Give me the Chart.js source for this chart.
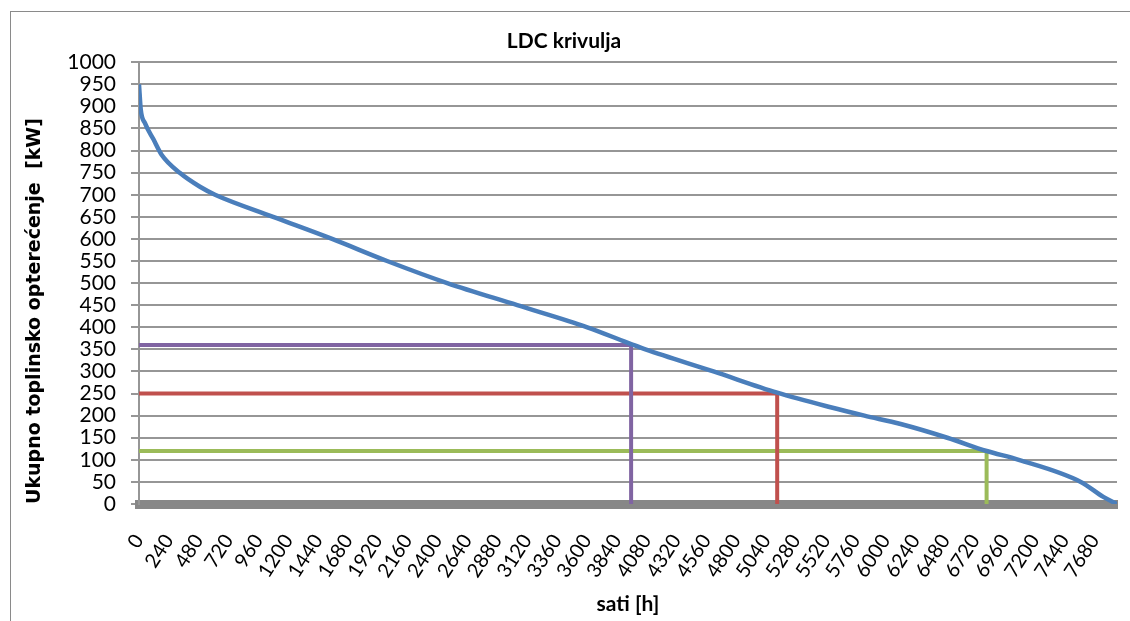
<!DOCTYPE html>
<html>
<head>
<meta charset="utf-8">
<script src="https://cdn.jsdelivr.net/npm/chart.js@4.4.1/dist/chart.umd.min.js"></script>
<style>
  html, body { margin: 0; padding: 0; background: #fff; }
  #wrap { width: 1130px; height: 621px; }
</style>
</head>
<body>
<div id="wrap"><canvas id="ldc"></canvas></div>
<script>
// load duration curve
const hours = [0, 14, 48, 115, 183, 330, 490, 611, 1078, 1552, 1994, 2477, 3040, 3603, 3955, 4070, 4617, 5129, 5558, 5830, 6121, 6496, 6812, 7070, 7569, 7750, 7860];
const load = [950, 893, 862, 826, 790, 749, 718, 700, 650, 600, 550, 500, 450, 400, 362, 350, 300, 252, 219, 200, 181, 150, 120, 100, 50, 16, 0];

// marker lines: load level and the hour where the curve reaches it
const markerLoads = [360, 250, 120];
const markerHours = [3955, 5129, 6812];
const markerColors = ['#8064A2', '#C0504D', '#9BBB59'];

// x tick labels every 240 h
const xTicks = [0, 240, 480, 720, 960, 1200, 1440, 1680, 1920, 2160, 2400, 2640, 2880, 3120, 3360, 3600,
    3840, 4080, 4320, 4560, 4800, 5040, 5280, 5520, 5760, 6000, 6240, 6480, 6720, 6960, 7200, 7440, 7680];
const xMax = 7860;

const ctx = document.getElementById('ldc');

const curve = hours.map((h, i) => ({ x: h, y: load[i] }));

const markerSets = markerLoads.map((v, i) => ({
    label: 'level ' + v,
    data: [{ x: 0, y: v }, { x: markerHours[i], y: v }, { x: markerHours[i], y: 0 }],
    borderColor: markerColors[i],
    borderWidth: 4,
    pointRadius: 0,
    order: 2
}));

const frame = {
    id: 'frame',
    beforeDraw(chart) {
        const c = chart.ctx;
        c.save();
        c.strokeStyle = '#8a8a8a';
        c.lineWidth = 1;
        c.strokeRect(10.5, 11.5, 1200, 700);
        c.restore();
    }
};

new Chart(ctx, {
    type: 'line',
    data: {
        datasets: [{
            label: 'LDC',
            data: curve,
            borderColor: '#4A7EBB',
            borderWidth: 4.5,
            pointRadius: 0,
            cubicInterpolationMode: 'monotone',
            order: 1
        }, ...markerSets]
    },
    options: {
        responsive: true,
        maintainAspectRatio: false,
        animation: false,
        layout: { padding: { left: 11, top: 12, right: 13, bottom: 4 } },
        plugins: {
            legend: { display: false },
            tooltip: { enabled: false },
            title: {
                display: true,
                text: 'LDC krivulja',
                color: '#000',
                font: { family: 'Lato', size: 21, weight: 'bold' },
                padding: { top: 17, bottom: 8 }
            }
        },
        scales: {
            x: {
                type: 'linear',
                min: 0,
                max: xMax,
                afterBuildTicks: s => { s.ticks = xTicks.map(v => ({ value: v })); },
                afterFit: s => { s.height = 113; s.paddingLeft = 0; s.paddingRight = 0; },
                ticks: {
                    autoSkip: false,
                    minRotation: 57,
                    maxRotation: 57,
                    padding: 26,
                    color: '#000',
                    font: { family: 'Lato', size: 20 },
                    callback: v => String(v)
                },
                grid: { display: false, drawTicks: false },
                border: { display: true, color: '#878787', width: 9 },
                title: {
                    display: true,
                    text: 'sati [h]',
                    color: '#000',
                    font: { family: 'Lato', size: 21, weight: 'bold' },
                    padding: 0
                }
            },
            y: {
                min: 0,
                max: 1000,
                afterFit: s => { s.width = 128; },
                ticks: {
                    stepSize: 50,
                    autoSkip: false,
                    padding: 15,
                    color: '#000',
                    font: { family: 'Lato', size: 21 },
                    callback: v => String(v)
                },
                grid: { color: '#969696', lineWidth: 2, tickLength: 8 },
                border: { display: true, color: '#969696', width: 2 },
                title: {
                    display: true,
                    align: 'start',
                    text: 'Ukupno toplinsko opterećenje  [kW]',
                    color: '#000',
                    font: { family: 'DejaVu Sans', size: 19, weight: 'bold' },
                    padding: 13
                }
            }
        }
    },
    plugins: [frame]
});
</script>
</body>
</html>
